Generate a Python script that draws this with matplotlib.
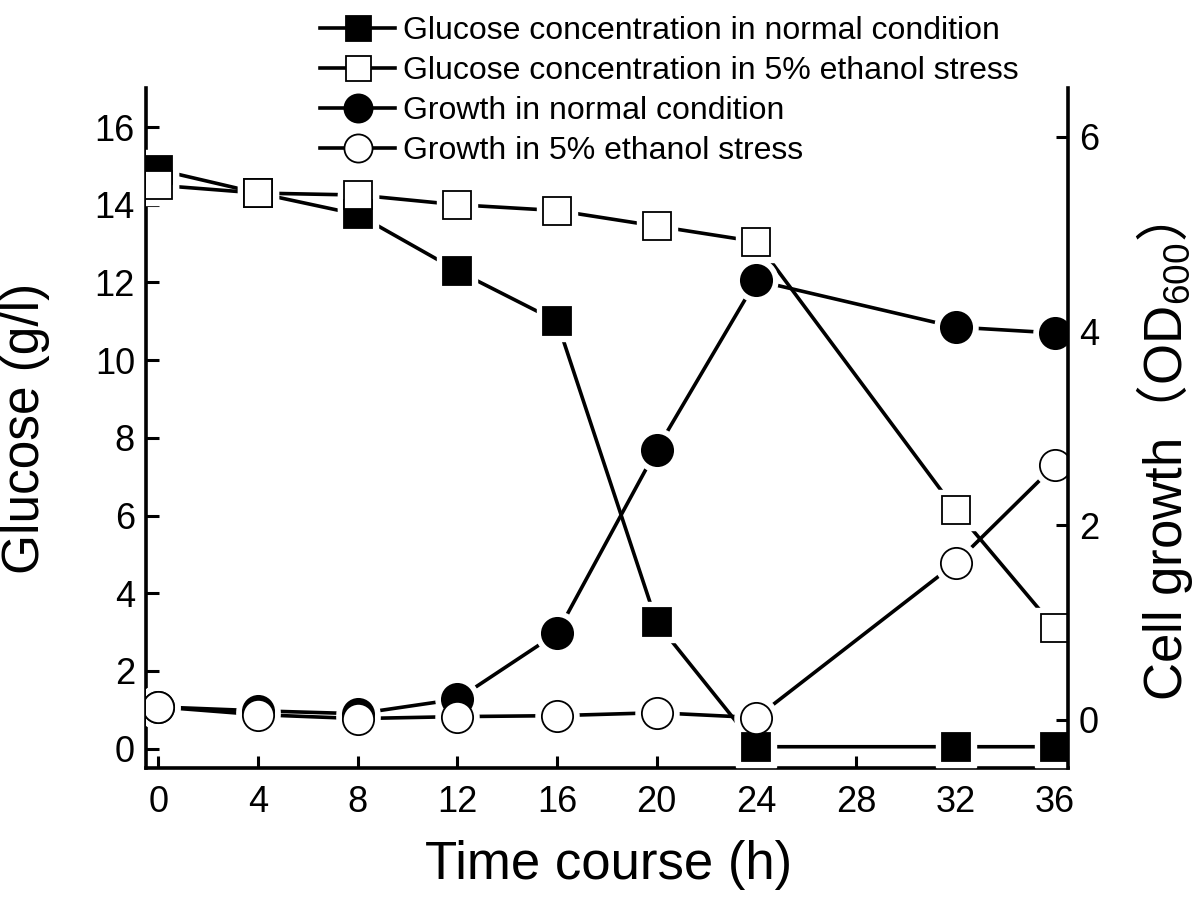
import matplotlib
matplotlib.use('Agg')
import matplotlib.pyplot as plt
from matplotlib.lines import Line2D

plt.rcParams['font.family'] = ['Liberation Sans', 'Noto Sans CJK SC', 'DejaVu Sans']
# fullwidth brackets of the right label come from the CJK font via \mathrm
plt.rcParams['mathtext.fontset'] = 'custom'
plt.rcParams['mathtext.rm'] = 'Noto Sans CJK SC'

# data
time = [0, 4, 8, 12, 16, 20, 24, 32, 36]
glucose_normal = [14.9, 14.3, 13.75, 12.3, 11.0, 3.25, 0.05, 0.05, 0.05]
glucose_ethanol = [14.5, 14.3, 14.25, 14.0, 13.85, 13.45, 13.05, 6.15, 3.1]
growth_normal = [0.13, 0.09, 0.06, 0.21, 0.89, 2.78, 4.52, 4.04, 3.98]
growth_ethanol = [0.13, 0.05, 0.01, 0.03, 0.04, 0.07, 0.02, 1.61, 2.62]

labels = ['Glucose concentration in normal condition',
          'Glucose concentration in 5% ethanol stress',
          'Growth in normal condition',
          'Growth in 5% ethanol stress']

x_ticks = [0, 4, 8, 12, 16, 20, 24, 28, 32, 36]
left_ticks = [0, 2, 4, 6, 8, 10, 12, 14, 16]
right_ticks = [0, 2, 4, 6]

LW = 2.6
SQ = 20
CI = 22.5
GAP = 8.5

fig = plt.figure(figsize=(12, 9.09), dpi=100)
ax = fig.add_axes([0.1217, 0.155, 0.768, 0.748])
ax2 = ax.twinx()

ax.set_xlim(-0.5, 36.5)
ax.set_ylim(-0.5, 17)
ax2.set_ylim(-0.5, 6.5)

series = [
    (glucose_normal, ax.transData, 's', SQ, 'black'),
    (glucose_ethanol, ax.transData, 's', SQ, 'white'),
    (growth_normal, ax2.transData, 'o', CI, 'black'),
    (growth_ethanol, ax2.transData, 'o', CI, 'white'),
]

# everything on one axes so the white gaps never cover another marker
for vals, tr, m, ms, fc in series:
    ax.plot(time, vals, color='black', lw=LW, transform=tr, zorder=2)
for vals, tr, m, ms, fc in series:
    ax.plot(time, vals, ls='none', marker=m, ms=ms + GAP, mfc='white',
            mec='white', transform=tr, zorder=3)
for vals, tr, m, ms, fc in series:
    ax.plot(time, vals, ls='none', marker=m, ms=ms, mfc=fc, mec='black',
            mew=1.3, transform=tr, zorder=4)

ax.set_xlim(-0.5, 36.5)
ax.set_ylim(-0.5, 17)

ax.set_xticks(x_ticks)
ax.set_yticks(left_ticks)
ax2.set_yticks(right_ticks)

for a in (ax, ax2):
    a.spines['top'].set_visible(False)
    for s in a.spines.values():
        s.set_linewidth(2.6)
    a.tick_params(direction='in', length=9, width=2.2, labelsize=26)
ax.spines['right'].set_visible(False)
ax2.spines['left'].set_visible(False)
ax2.spines['bottom'].set_visible(False)
ax.tick_params(axis='x', pad=12)
ax.tick_params(axis='y', pad=8)
ax2.tick_params(axis='y', pad=8)

ax.set_xlabel('Time course (h)', fontsize=38)
ax.xaxis.set_label_coords(0.502, -0.106)
ax.set_ylabel('Glucose (g/l)', fontsize=37)
ax.yaxis.set_label_coords(-0.104, 0.5)
ax2.set_ylabel('Cell growth$\\mathrm{（}$OD$_{\\mathdefault{600}}$$\\mathrm{）}$',
               fontsize=38)
ax2.yaxis.set_label_coords(1.072, 0.45)

handles = []
for vals, tr, m, ms, fc in series:
    handles.append(Line2D([], [], color='black', lw=LW, marker=m, ms=ms * 0.9,
                          mfc=fc, mec='black', mew=1.3))
fig.legend(handles, labels, loc='upper left', bbox_to_anchor=(0.2667, 0.982),
           frameon=False, fontsize=23, borderpad=0, borderaxespad=0,
           handlelength=2.35, handletextpad=0.25, labelspacing=0.31)

fig.savefig('out.png', dpi=100)
